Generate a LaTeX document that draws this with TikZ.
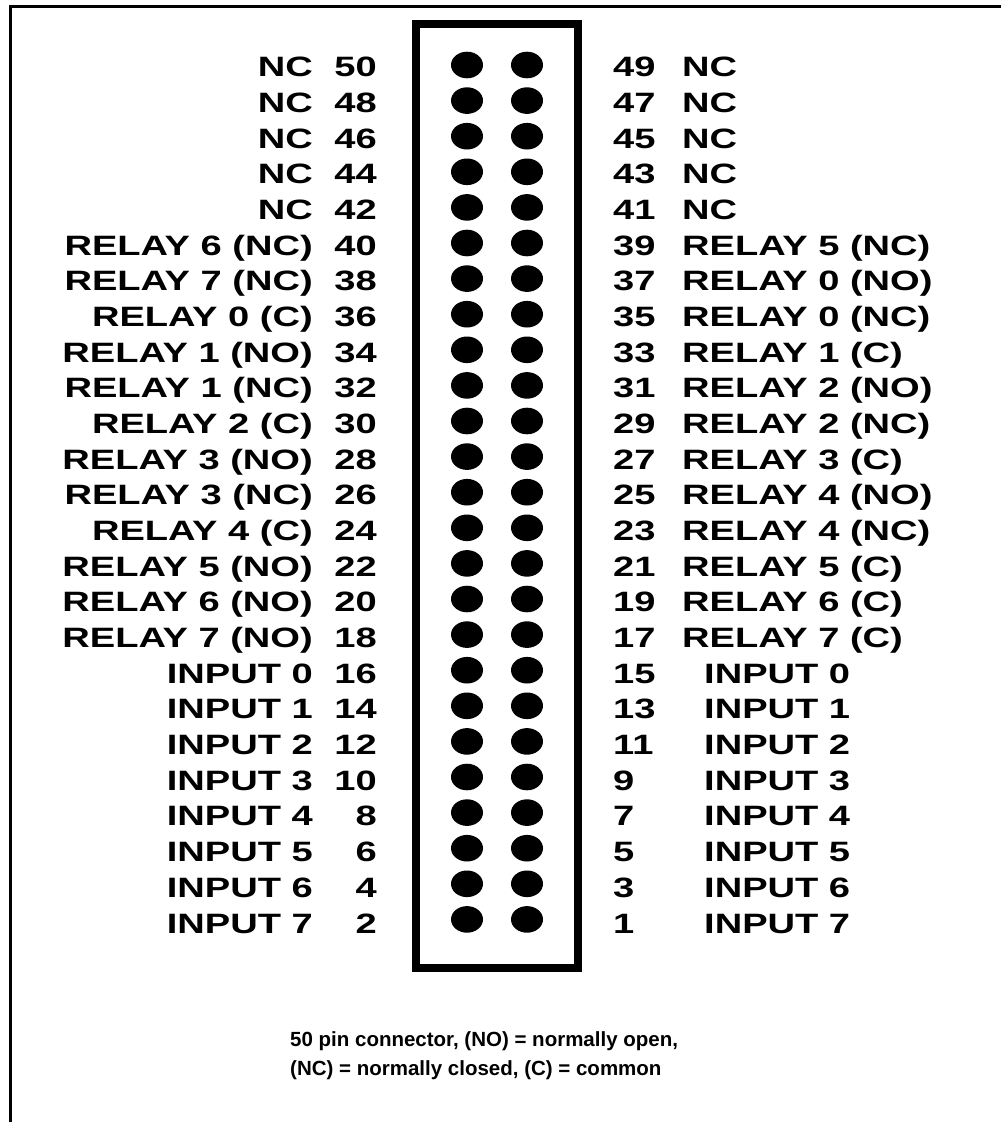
\documentclass[tikz,border=0pt]{standalone}
\usepackage{fontspec}
\newfontfamily\lblfont{Liberation Sans}[FakeStretch=1.36]
\newfontfamily\notefont{Liberation Sans}
\tikzset{
  lbl/.style={inner sep=0pt, font=\lblfont\bfseries\fontsize{28}{28}\selectfont},
  note/.style={inner sep=0pt, anchor=base west, font=\notefont\bfseries\fontsize{20.5}{20.5}\selectfont},
  pin/.style={fill=black, draw=none},
}
\begin{document}
\begin{tikzpicture}[x=1pt,y=-1pt]
\useasboundingbox (0,0) rectangle (1001,1122);
% frame
\draw[line width=3pt, miter limit=10] (1001,6.5) -- (10.5,6.5) -- (10.5,1122);
% connector body
\draw[line width=8pt] (416,23.5) rectangle (577.5,968);
% pins
\foreach \i in {0,...,24}{
  \fill[pin] (467,65+35.6*\i) ellipse [x radius=16, y radius=13.3];
  \fill[pin] (527,65+35.6*\i) ellipse [x radius=16, y radius=13.3];
}
% left labels
\foreach \lab/\num [count=\i from 0] in {NC/50,NC/48,NC/46,NC/44,NC/42,
  RELAY 6 (NC)/40,RELAY 7 (NC)/38,RELAY 0 (C)/36,RELAY 1 (NO)/34,RELAY 1 (NC)/32,
  RELAY 2 (C)/30,RELAY 3 (NO)/28,RELAY 3 (NC)/26,RELAY 4 (C)/24,RELAY 5 (NO)/22,
  RELAY 6 (NO)/20,RELAY 7 (NO)/18,INPUT 0/16,INPUT 1/14,INPUT 2/12,INPUT 3/10,
  INPUT 4/8,INPUT 5/6,INPUT 6/4,INPUT 7/2}{
  \node[lbl, anchor=base east] (ll\i) at (313,76.7+35.68*\i) {\lab};
  \node[lbl, anchor=base east] (ln\i) at (377,76.7+35.68*\i) {\num};
}
% right labels (NC / RELAY rows)
\foreach \num/\lab [count=\i from 0] in {49/NC,47/NC,45/NC,43/NC,41/NC,
  39/RELAY 5 (NC),37/RELAY 0 (NO),35/RELAY 0 (NC),33/RELAY 1 (C),31/RELAY 2 (NO),
  29/RELAY 2 (NC),27/RELAY 3 (C),25/RELAY 4 (NO),23/RELAY 4 (NC),21/RELAY 5 (C),
  19/RELAY 6 (C),17/RELAY 7 (C)}{
  \node[lbl, anchor=base west] (rn\i) at (613,76.7+35.68*\i) {\num};
  \node[lbl, anchor=base west] (rl\i) at (682,76.7+35.68*\i) {\lab};
}
% right labels (INPUT rows)
\foreach \num/\lab [count=\i from 17] in {15/INPUT 0,13/INPUT 1,11/INPUT 2,9/INPUT 3,
  7/INPUT 4,5/INPUT 5,3/INPUT 6,1/INPUT 7}{
  \node[lbl, anchor=base west] (rn\i) at (613,76.7+35.68*\i) {\num};
  \node[lbl, anchor=base west] (rl\i) at (704,76.7+35.68*\i) {\lab};
}
% note
\node[note] (note1) at (290,1046.7) {50 pin connector, (NO) = normally open,};
\node[note] (note2) at (290,1075) {(NC) = normally closed, (C) = common};
\end{tikzpicture}
\end{document}
